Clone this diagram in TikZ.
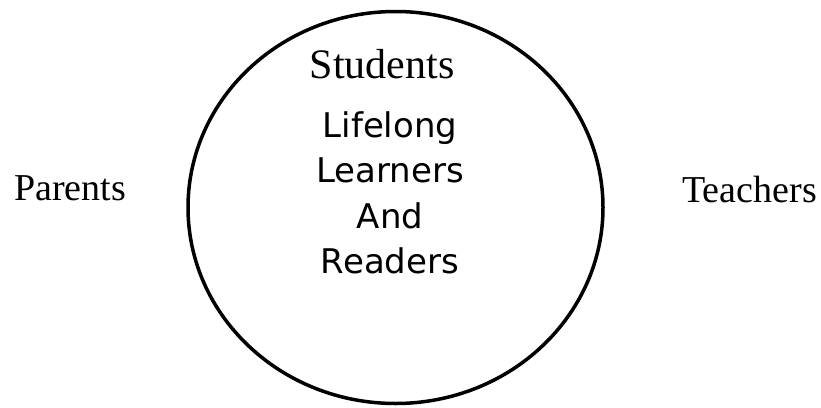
\documentclass[tikz,border=0pt]{standalone}
\usepackage{fontspec}
\setmainfont{Liberation Serif}
\newfontfamily\comicfont{DejaVu Sans}
\usepackage{tikz}
\usetikzlibrary{shapes.geometric}

\begin{document}
\begin{tikzpicture}[x=1pt,y=-1pt,
    lado/.style={anchor=base,inner sep=0pt,font=\fontsize{38}{44}\selectfont}]
        % Marco de la imagen
        \useasboundingbox (0,0) rectangle (821,407);

        % Dibuja el circulo
        \node (circulo) at (395.5,207.5) [draw,ellipse,line width=3.5pt,
            minimum width=415pt,minimum height=392pt] {};

        % Coloca los textos de dentro
        \node (alumnos) at (382,78) [anchor=base,inner sep=0pt,
            font=\fontsize{42}{48}\selectfont] {Students};
        \node (lema) at (390,111) [anchor=north,inner sep=0pt,align=center,
            font=\comicfont\fontsize{34}{45.5}\selectfont] {Lifelong\\Learners\\And\\Readers};

        % Coloca los textos de los lados
        \node (padres) at (70,200) [lado] {Parents};
        \node (maestros) at (749.5,202) [lado] {Teachers};
\end{tikzpicture}
\end{document}
